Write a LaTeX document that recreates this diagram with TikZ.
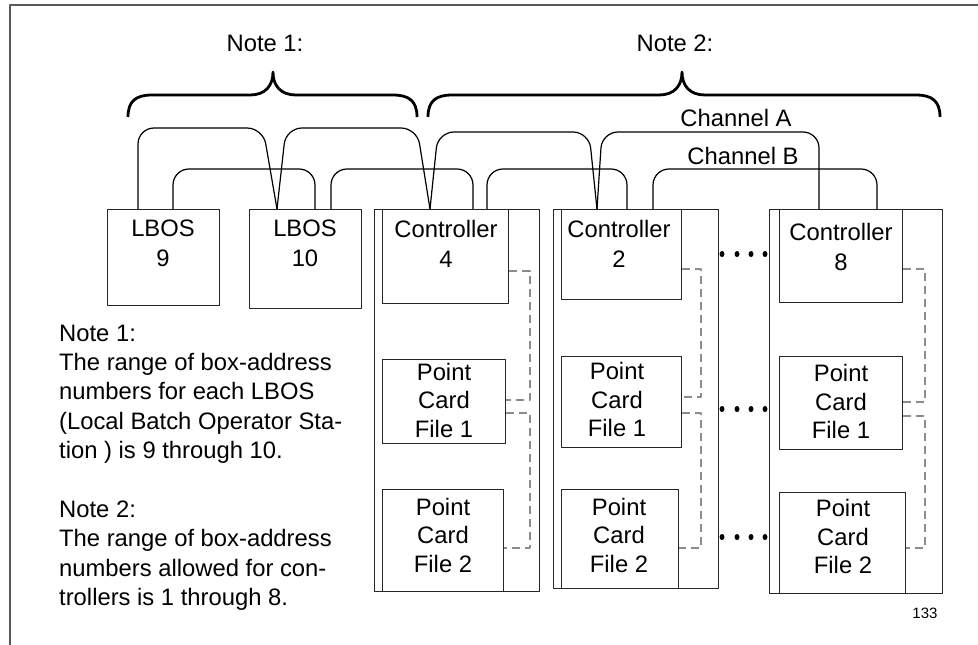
\documentclass[tikz,border=0pt]{standalone}
\usepackage{fontspec}
\setmainfont{Liberation Sans}
\begin{document}
\begin{tikzpicture}[x=1pt,y=-1pt,line join=round,
  box/.style={draw=black!85,line width=1.2pt,inner sep=0pt,anchor=north west},
  lbl/.style={font=\fontsize{23.8}{28.5}\selectfont,align=center,inner sep=0pt,anchor=north},
  ctl/.style={font=\fontsize{23.8}{30}\selectfont,align=center,inner sep=0pt,anchor=north},
  txt/.style={font=\fontsize{23.8}{28.5}\selectfont,inner sep=0pt},
  wire/.style={draw=black,line width=1.2pt},
  chA/.style={wire,rounded corners=16pt},
  chB/.style={wire,rounded corners=16pt},
  link/.style={draw=black!45,line width=1.1pt,dash pattern=on 8pt off 5pt},
  brace/.style={draw=black,line width=2.8pt},
  frame/.style={draw=black!65,line width=1.2pt},
  dot/.style={fill=black}]
\useasboundingbox (0,0) rectangle (978,645);

% frame
\draw[frame] (978,5) -- (10,5) -- (10,645);

% braces
\draw[brace] (128,117) .. controls (128,101) and (136,95) .. (152,95) -- (250,95)
  .. controls (265,95) and (273,86) .. (273,72) .. controls (273,86) and (281,95) .. (296,95)
  -- (393,95) .. controls (409,95) and (417,101) .. (417,117);
\draw[brace] (428,117) .. controls (428,101) and (436,95) .. (452,95) -- (659,95)
  .. controls (674,95) and (682,86) .. (682,72) .. controls (682,86) and (690,95) .. (705,95)
  -- (916,95) .. controls (932,95) and (940,101) .. (940,117);

% top labels
\node[txt] (note1) at (265,43) {Note 1:};
\node[txt] (note2) at (675,43) {Note 2:};
\node[txt] (chanA) at (736,118) {Channel A};
\node[txt] (chanB) at (743,156) {Channel B};
\node[inner sep=0pt,font=\fontsize{15}{18}\selectfont] (pagenum) at (925,613) {133};

% LBOS boxes
\node[box,minimum width=112pt,minimum height=96pt] (lbos9) at (107,209) {};
\node[box,minimum width=112pt,minimum height=99pt] (lbos10) at (249,209) {};
\node[ctl] (lbos9t) at (163,220) {LBOS\\9};
\node[ctl] (lbos10t) at (305,220) {LBOS\\10};

% rack 1
\node[box,minimum width=165pt,minimum height=382pt] (rack1) at (374,209) {};
\node[box,minimum width=126pt,minimum height=94pt] (c4) at (382,209) {};
\node[box,minimum width=123pt,minimum height=84pt] (p41) at (382,359) {};
\node[box,minimum width=121pt,minimum height=102pt] (p42) at (382,489) {};
\node[ctl] (c4t) at (446,220) {Controller\\4};
\node[lbl] (p41t) at (444,363) {Point\\Card\\File 1};
\node[lbl] (p42t) at (443,498) {Point\\Card\\File 2};

% rack 2
\node[box,minimum width=165pt,minimum height=379pt] (rack2) at (553,209) {};
\node[box,minimum width=120pt,minimum height=90pt] (c2) at (561,209) {};
\node[box,minimum width=120pt,minimum height=91pt] (p21) at (561,356) {};
\node[box,minimum width=117pt,minimum height=99pt] (p22) at (561,489) {};
\node[ctl] (c2t) at (619,220) {Controller\\2};
\node[lbl] (p21t) at (617,362.5) {Point\\Card\\File 1};
\node[lbl] (p22t) at (619,498) {Point\\Card\\File 2};

% rack 3
\node[box,minimum width=173pt,minimum height=384pt] (rack3) at (769,209) {};
\node[box,minimum width=123pt,minimum height=93pt] (c8) at (779,209) {};
\node[box,minimum width=123pt,minimum height=93pt] (p81) at (779,356) {};
\node[box,minimum width=126pt,minimum height=101pt] (p82) at (779,492) {};
\node[ctl] (c8t) at (841,223) {Controller\\8};
\node[lbl] (p81t) at (841,364.5) {Point\\Card\\File 1};
\node[lbl] (p82t) at (843,499.5) {Point\\Card\\File 2};

% Channel A
\draw[chA] ([xshift=31pt]lbos9.north west) -- (138,128) -- (263,128) -- ([xshift=28pt]lbos10.north west);
\draw[chA] ([xshift=28pt]lbos10.north west) -- (286,128) -- (417,128) -- ([xshift=48pt]c4.north west);
\draw[chA] ([xshift=48pt]c4.north west) -- (438,132) -- (589,132) -- ([xshift=36pt]c2.north west);
\draw[chA] ([xshift=36pt]c2.north west) -- (602,132) -- (819,132) -- ([xshift=40pt]c8.north west);

% Channel B
\draw[chB] ([xshift=66pt]lbos9.north west) -- (173,169) -- (315,169) -- ([xshift=66pt]lbos10.north west);
\draw[chB] ([xshift=82pt]lbos10.north west) -- (331,169) -- (473,169) -- ([xshift=91pt]c4.north west);
\draw[chB] ([xshift=105pt]c4.north west) -- (487,169) -- (627,169) -- ([xshift=66pt]c2.north west);
\draw[chB] ([xshift=92pt]c2.north west) -- (653,169) -- (877,169) -- ([xshift=98pt]c8.north west);

% dashed internal links
\draw[link] ([yshift=-62pt]c4.north east) -| (530,400) -- ([yshift=-41pt]p41.north east);
\draw[link] ([yshift=-54pt]p41.north east) -| (530,548) -- ([yshift=-59pt]p42.north east);
\draw[link] ([yshift=-60pt]c2.north east) -| (701,397) -- ([yshift=-41pt]p21.north east);
\draw[link] ([yshift=-57pt]p21.north east) -| (701,548) -- ([yshift=-59pt]p22.north east);
\draw[link] ([yshift=-60pt]c8.north east) -| (925,402) -- ([yshift=-46pt]p81.north east);
\draw[link] ([yshift=-60pt]p81.north east) -| (925,548) -- ([yshift=-56pt]p82.north east);

% ellipsis dots
\foreach \yy in {254,409,537}{
  \foreach \xx in {722,737,751,765}{
    \fill[dot] (\xx,\yy) ellipse [x radius=2.5pt,y radius=3pt];
  }
}

% notes text
\node[txt,align=left,anchor=north west,font=\fontsize{23.8}{29.4}\selectfont] (notes) at (59,324.5)
 {Note 1:\\The range of box-address\\numbers for each LBOS\\(Local Batch Operator Sta-\\tion ) is 9 through 10.\\[29.4pt]Note 2:\\The range of box-address\\numbers allowed for con-\\trollers is 1 through 8.};
\end{tikzpicture}
\end{document}
